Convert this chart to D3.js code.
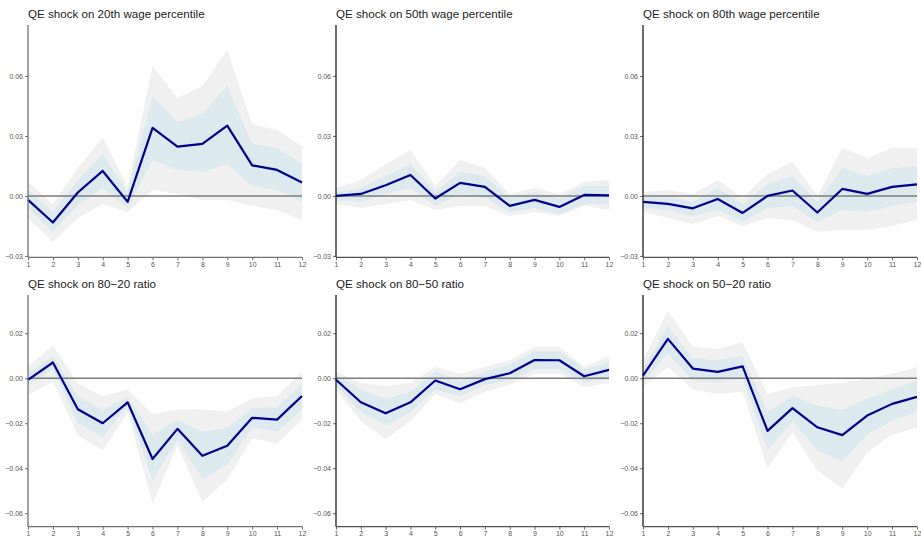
<!DOCTYPE html>
<html>
<head>
<meta charset="utf-8">
<script src="https://cdn.jsdelivr.net/npm/d3@7/dist/d3.min.js"></script>
<style>
  html, body { margin: 0; padding: 0; background: #ffffff; }
  svg { display: block; font-family: "Liberation Sans", Arial, sans-serif; }
</style>
</head>
<body>
<svg id="chart" width="921" height="541"></svg>
<script>
// Horizons (months after the shock)
const horizons = [1, 2, 3, 4, 5, 6, 7, 8, 9, 10, 11, 12];

const titles = [
  "QE shock on 20th wage percentile",
  "QE shock on 50th wage percentile",
  "QE shock on 80th wage percentile",
  "QE shock on 80\u221220 ratio",
  "QE shock on 80\u221250 ratio",
  "QE shock on 50\u221220 ratio"
];

// Point responses
const irf20 = [-0.002, -0.0133, 0.0017, 0.0125, -0.003, 0.034, 0.0247, 0.026, 0.0352, 0.0153, 0.013, 0.0067];
const irf50 = [0.000, 0.001, 0.0053, 0.0105, -0.0013, 0.0065, 0.0045, -0.005, -0.002, -0.0055, 0.0005, 0.0003];
const irf80 = [-0.003, -0.004, -0.0062, -0.0015, -0.0085, 0.000, 0.0027, -0.0083, 0.0035, 0.001, 0.0045, 0.0058];
const irf8020 = [-0.0007, 0.007, -0.0138, -0.020, -0.0107, -0.0359, -0.0225, -0.0345, -0.030, -0.0176, -0.0184, -0.0079];
const irf8050 = [-0.0007, -0.0107, -0.0156, -0.0107, -0.001, -0.0049, -0.0004, 0.0022, 0.0081, 0.008, 0.0009, 0.0037];
const irf5020 = [0.0012, 0.0175, 0.0043, 0.0028, 0.0053, -0.0234, -0.0133, -0.0218, -0.0253, -0.0166, -0.0114, -0.0083];

// Inner (68%) bands
const inLo20 = [-0.006, -0.018, -0.0047, 0.004, -0.006, 0.018, 0.013, 0.012, 0.016, 0.005, 0.003, -0.003];
const inHi20 = [0.003, -0.008, 0.008, 0.021, 0.002, 0.050, 0.037, 0.041, 0.055, 0.026, 0.024, 0.016];
const inLo50 = [-0.002, -0.003, 0.001, 0.004, -0.005, 0.001, -0.001, -0.008, -0.006, -0.009, -0.004, -0.004];
const inHi50 = [0.002, 0.004, 0.010, 0.016, 0.002, 0.012, 0.010, -0.001, 0.002, -0.001, 0.005, 0.005];
const inLo80 = [-0.006, -0.007, -0.010, -0.007, -0.013, -0.006, -0.005, -0.013, -0.007, -0.008, -0.005, -0.003];
const inHi80 = [0.000, 0.000, -0.003, 0.004, -0.004, 0.006, 0.010, -0.003, 0.014, 0.010, 0.014, 0.015];
const inLo8020 = [-0.003, 0.004, -0.020, -0.026, -0.0126, -0.0455, -0.0274, -0.045, -0.0385, -0.022, -0.0237, -0.014];
const inHi8020 = [0.002, 0.010, -0.008, -0.014, -0.0085, -0.025, -0.0185, -0.0237, -0.022, -0.0133, -0.013, -0.0022];
const inLo8050 = [-0.003, -0.015, -0.021, -0.015, -0.005, -0.008, -0.003, -0.001, 0.004, 0.004, -0.002, 0.000];
const inHi8050 = [0.0015, -0.005, -0.009, -0.006, 0.003, -0.001, 0.003, 0.006, 0.012, 0.012, 0.004, 0.007];
const inLo5020 = [-0.002, 0.011, -0.001, -0.002, 0.000, -0.032, -0.019, -0.032, -0.037, -0.025, -0.019, -0.015];
const inHi5020 = [0.004, 0.023, 0.009, 0.008, 0.010, -0.015, -0.008, -0.012, -0.014, -0.009, -0.005, -0.001];

// Outer (90%) bands
const outLo20 = [-0.011, -0.023, -0.011, -0.004, -0.008, 0.003, 0.001, -0.002, -0.002, -0.005, -0.007, -0.012];
const outHi20 = [0.007, -0.004, 0.014, 0.029, 0.005, 0.065, 0.049, 0.055, 0.073, 0.036, 0.033, 0.025];
const outLo50 = [-0.004, -0.006, -0.004, -0.002, -0.007, -0.005, -0.005, -0.010, -0.008, -0.010, -0.005, -0.007];
const outHi50 = [0.004, 0.008, 0.016, 0.023, 0.005, 0.018, 0.014, 0.001, 0.004, 0.001, 0.007, 0.008];
const outLo80 = [-0.008, -0.011, -0.014, -0.010, -0.015, -0.011, -0.012, -0.018, -0.017, -0.017, -0.015, -0.012];
const outHi80 = [0.002, 0.003, 0.001, 0.008, -0.001, 0.011, 0.017, 0.000, 0.024, 0.019, 0.024, 0.024];
const outLo8020 = [-0.0074, -0.0015, -0.0255, -0.032, -0.0155, -0.0556, -0.030, -0.055, -0.045, -0.0267, -0.029, -0.0185];
const outHi8020 = [0.005, 0.0148, -0.0022, -0.008, -0.005, -0.016, -0.014, -0.0138, -0.0148, -0.009, -0.008, 0.003];
const outLo8050 = [-0.005, -0.019, -0.027, -0.019, -0.007, -0.011, -0.006, -0.003, 0.002, 0.002, -0.004, -0.002];
const outHi8050 = [0.003, -0.002, -0.0035, -0.002, 0.005, 0.002, 0.005, 0.008, 0.014, 0.014, 0.005, 0.010];
const outLo5020 = [-0.004, 0.005, -0.005, -0.007, -0.006, -0.040, -0.024, -0.041, -0.049, -0.033, -0.025, -0.022];
const outHi5020 = [0.008, 0.030, 0.014, 0.013, 0.016, -0.007, -0.004, -0.003, -0.002, 0.000, 0.002, 0.005];

// Y tick values per row
const ticksTop = [-0.03, 0.00, 0.03, 0.06];
const ticksBottom = [-0.06, -0.04, -0.02, 0.00, 0.02];

const panels = [
  { title: titles[0], irf: irf20, inLo: inLo20, inHi: inHi20, outLo: outLo20, outHi: outHi20 },
  { title: titles[1], irf: irf50, inLo: inLo50, inHi: inHi50, outLo: outLo50, outHi: outHi50 },
  { title: titles[2], irf: irf80, inLo: inLo80, inHi: inHi80, outLo: outLo80, outHi: outHi80 },
  { title: titles[3], irf: irf8020, inLo: inLo8020, inHi: inHi8020, outLo: outLo8020, outHi: outHi8020 },
  { title: titles[4], irf: irf8050, inLo: inLo8050, inHi: inHi8050, outLo: outLo8050, outHi: outHi8050 },
  { title: titles[5], irf: irf5020, inLo: inLo5020, inHi: inHi5020, outLo: outLo5020, outHi: outHi5020 }
];

const svg = d3.select("#chart");

const colLeft = [28, 336, 643];
const colRight = [302, 609, 917];
const rowTop = [25, 295];
const rowBottom = [257.3, 526.7];
const rowDomain = [[-0.0307, 0.0855], [-0.066, 0.037]];
const rowTicks = [ticksTop, ticksBottom];

const fmt = d => d3.format(".2f")(d).replace("-", "\u2212");

panels.forEach((p, i) => {
  const col = i % 3, row = Math.floor(i / 3);
  const x = d3.scaleLinear().domain([1, 12]).range([colLeft[col], colRight[col]]);
  const y = d3.scaleLinear().domain(rowDomain[row]).range([rowBottom[row], rowTop[row]]);
  const axisColor = col === 0 ? "#707070" : "#1e1e1e";
  const g = svg.append("g");

  const rows = horizons.map((h, k) => ({ h, v: p.irf[k], il: p.inLo[k], ih: p.inHi[k], ol: p.outLo[k], oh: p.outHi[k] }));

  g.append("path").datum(rows)
    .attr("fill", "#f0f0f0")
    .attr("d", d3.area().x(d => x(d.h)).y0(d => y(d.ol)).y1(d => y(d.oh)));
  g.append("path").datum(rows)
    .attr("fill", "#dce9ee")
    .attr("d", d3.area().x(d => x(d.h)).y0(d => y(d.il)).y1(d => y(d.ih)));

  // zero reference line
  g.append("line")
    .attr("x1", x(1)).attr("x2", x(12))
    .attr("y1", y(0)).attr("y2", y(0))
    .attr("stroke", "#7d7d7d").attr("stroke-width", 1.5);

  g.append("path").datum(rows)
    .attr("fill", "none")
    .attr("stroke", "#00008b")
    .attr("stroke-width", 2.2)
    .attr("stroke-linejoin", "round")
    .attr("d", d3.line().x(d => x(d.h)).y(d => y(d.v)));

  // axes
  const yAxis = g.append("g")
    .attr("transform", `translate(${x(1)},0)`)
    .call(d3.axisLeft(y).tickValues(rowTicks[row]).tickFormat(fmt).tickSize(3).tickPadding(2));
  yAxis.select(".domain").remove();
  yAxis.append("line")
    .attr("x1", 0).attr("x2", 0)
    .attr("y1", rowTop[row]).attr("y2", rowBottom[row])
    .attr("stroke", axisColor).attr("stroke-width", 1.3);

  const xAxis = g.append("g")
    .attr("transform", `translate(0,${rowBottom[row]})`)
    .call(d3.axisBottom(x).tickValues(horizons).tickFormat(d3.format("d")).tickSize(3).tickPadding(1.5));
  xAxis.select(".domain").remove();
  xAxis.append("line")
    .attr("x1", x(1)).attr("x2", x(12))
    .attr("y1", 0).attr("y2", 0)
    .attr("stroke", col === 0 ? "#707070" : "#505050").attr("stroke-width", 1.3);

  [yAxis, xAxis].forEach(a => {
    a.selectAll(".tick line").attr("stroke", "#444").attr("stroke-width", 0.8);
    a.selectAll(".tick text").attr("fill", "#555").attr("font-size", "7px")
      .attr("font-family", "'Liberation Sans', Arial, sans-serif");
  });

  g.append("text")
    .attr("x", colLeft[col])
    .attr("y", rowTop[row] - 7.5)
    .attr("font-size", "11.6px")
    .attr("fill", "#1a1a1a")
    .text(p.title);
});
</script>
</body>
</html>
